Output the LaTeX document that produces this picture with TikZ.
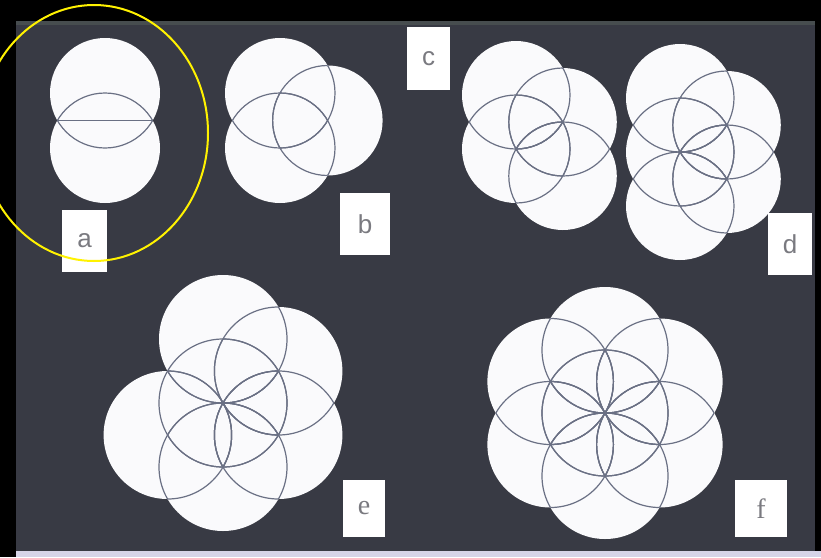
\documentclass[tikz,border=0pt]{standalone}
\usepackage{fontspec}
\setmainfont{Liberation Serif}
\newfontfamily\lsans{Liberation Sans}
\definecolor{board}{HTML}{383A44}
\definecolor{boardtop}{HTML}{56605A}
\definecolor{arcc}{HTML}{6A7084}
\definecolor{disc}{HTML}{FAFAFC}
\definecolor{strip}{HTML}{D6D4E8}
\definecolor{lettc}{HTML}{7A7A80}
\tikzset{
  lbl/.style={fill=white, inner sep=0pt, text=lettc, font=\fontsize{26}{26}\selectfont},
  arcline/.style={draw=arcc, line width=1.2pt}
}
\newcommand\flowerfig[2]{%
  \foreach \ax/\ay in {#2} \fill[disc] (\ax,\ay) circle[radius=#1pt];
  \foreach \ax/\ay [count=\i] in {#2}{%
    \foreach \bx/\by [count=\j] in {#2}{%
      \ifnum\i=\j\relax\else
        \begin{scope}
          \clip (\bx,\by) circle[radius=#1pt];
          \draw[arcline] (\ax,\ay) circle[radius=#1pt];
        \end{scope}
      \fi}}}
\begin{document}
\begin{tikzpicture}[x=1pt,y=-1pt]
\useasboundingbox (0,0) rectangle (821,557);
\clip (0,0) rectangle (821,557);
\fill[black] (0,0) rectangle (821,557);
\fill[board] (16,21) rectangle (815,551);
\fill[boardtop, opacity=0.5] (16,21) rectangle (815,25);
\fill[strip] (16,551) rectangle (821,557);
% a
\flowerfig{55}{105/148, 105/93}
\coordinate (aL) at (57.4,120.5);
\coordinate (aR) at (152.6,120.5);
\draw[arcline] (aL) -- (aR);
% b
\flowerfig{55}{280/148, 280/93, 327.6/120.5}
% c
\flowerfig{54}{516/149, 516/95, 562.8/122, 562.8/176}
% d
\flowerfig{54}{680/152, 680/98, 726.8/125, 726.8/179, 680/206}
% e
\flowerfig{64}{223/403, 223/339, 278.4/371, 278.4/435, 223/467, 167.6/435}
% f
\flowerfig{63}{605/413, 605/350, 659.6/381.5, 659.6/444.5, 605/476, 550.4/444.5, 550.4/381.5}
% labels
\node[lbl, minimum width=45pt, minimum height=62pt, font=\lsans\fontsize{26}{26}\selectfont] (la) at (84.5,241) {a};
\node[lbl, minimum width=50pt, minimum height=62pt, font=\lsans\fontsize{26}{26}\selectfont] (lb) at (365,224) {b};
\node[lbl, minimum width=43pt, minimum height=63pt, font=\lsans\fontsize{26}{26}\selectfont] (lc) at (428.5,58.5) {c};
\node[lbl, minimum width=44pt, minimum height=62pt, font=\lsans\fontsize{26}{26}\selectfont] (ld) at (790,244) {d};
\node[lbl, minimum width=42pt, minimum height=57pt, font=\fontsize{28}{28}\selectfont] (le) at (364,508.5) {e};
\node[lbl, minimum width=52pt, minimum height=57pt, font=\fontsize{28}{28}\selectfont] (lf) at (761,508.5) {f};
% highlight
\draw[yellow, line width=2pt] (94,133) ellipse [x radius=114pt, y radius=128pt];
\end{tikzpicture}
\end{document}
